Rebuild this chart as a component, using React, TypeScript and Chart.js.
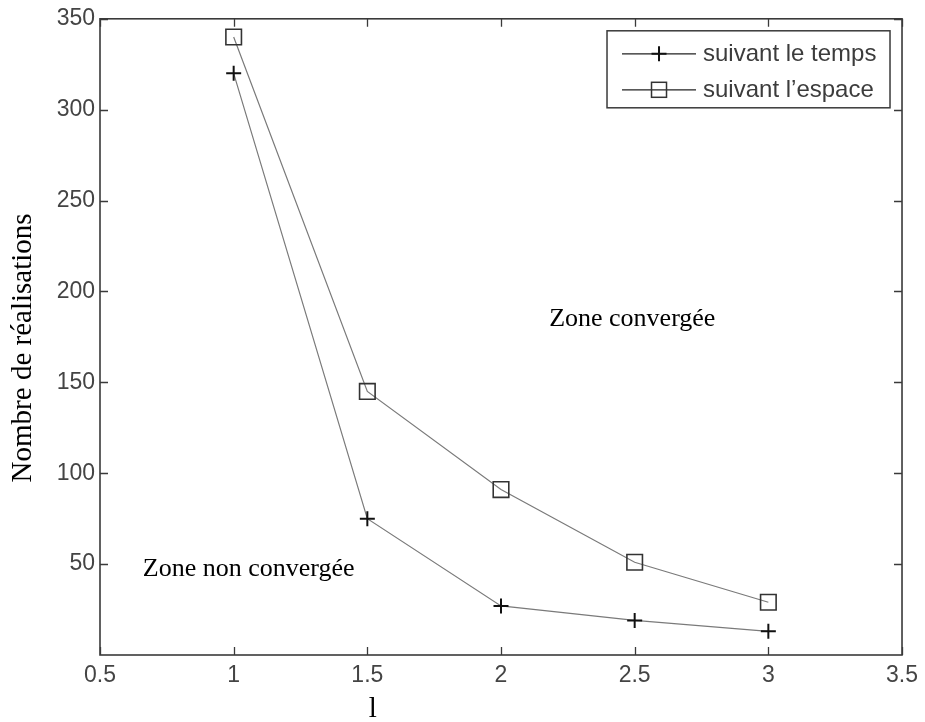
import React, { useEffect, useRef } from "react";
import { Chart, registerables } from "chart.js";

Chart.register(...registerables);

// Parameter values on the horizontal axis
const xValues = [1, 1.5, 2, 2.5, 3];
// Number of realisations needed for convergence
const tempsValues = [320, 75, 27, 19, 13];
const espaceValues = [340, 145, 91, 51, 29];

const xTicks = [0.5, 1, 1.5, 2, 2.5, 3, 3.5];
const yTicks = [50, 100, 150, 200, 250, 300, 350];

const seriesNames = ["suivant le temps", "suivant l\u2019espace"];
const yTitle = "Nombre de réalisations";
const xTitle = "l";
const zoneTexts = ["Zone convergée", "Zone non convergée"];
// anchor points (data coordinates) for the zone annotations
const zoneAnchors = [
  { x: 2.18, y: 181 },
  { x: 0.66, y: 43.5 },
];
const xTitleAnchor = 1.52;

const SANS = '"Liberation Sans", Arial, Helvetica, sans-serif';
const SERIF = '"Liberation Serif", "Times New Roman", serif';
const AXIS_COLOR = "#3a3a3a";
const LINE_COLOR = "#7a7a7a";

const framePlugin = {
  id: "matlabFrame",
  afterDraw(chart: any) {
    const { ctx, chartArea } = chart;
    const xs = chart.scales.x;
    const ys = chart.scales.y;
    const { left, right, top, bottom } = chartArea;
    ctx.save();

    // axes box
    ctx.strokeStyle = AXIS_COLOR;
    ctx.lineWidth = 1.6;
    ctx.strokeRect(left, top, right - left, bottom - top);

    // inward tick marks on all four sides
    const tl = 8;
    ctx.lineWidth = 1.3;
    ctx.beginPath();
    xTicks.forEach((v) => {
      const px = Math.round(xs.getPixelForValue(v)) + 0.5;
      ctx.moveTo(px, bottom);
      ctx.lineTo(px, bottom - tl);
      ctx.moveTo(px, top);
      ctx.lineTo(px, top + tl);
    });
    yTicks.forEach((v) => {
      const py = Math.round(ys.getPixelForValue(v)) + 0.5;
      ctx.moveTo(left, py);
      ctx.lineTo(left + tl, py);
      ctx.moveTo(right, py);
      ctx.lineTo(right - tl, py);
    });
    ctx.stroke();

    // zone annotations
    ctx.fillStyle = "#000";
    ctx.font = `26px ${SERIF}`;
    ctx.textAlign = "left";
    ctx.textBaseline = "alphabetic";
    zoneTexts.forEach((t, i) => {
      const a = zoneAnchors[i];
      ctx.fillText(t, xs.getPixelForValue(a.x), ys.getPixelForValue(a.y));
    });

    // y-axis title
    ctx.save();
    ctx.font = `29px ${SERIF}`;
    ctx.textAlign = "center";
    ctx.textBaseline = "middle";
    ctx.translate(23, (top + bottom) / 2 + 11);
    ctx.rotate(-Math.PI / 2);
    ctx.fillText(yTitle, 0, 0);
    ctx.restore();

    // x-axis title
    ctx.font = `29px ${SERIF}`;
    ctx.textAlign = "center";
    ctx.textBaseline = "alphabetic";
    ctx.fillText(xTitle, xs.getPixelForValue(xTitleAnchor), bottom + 62);

    // legend box
    const lx = right - 295;
    const ly = top + 12;
    const lw = 283;
    const lh = 77;
    ctx.fillStyle = "#fff";
    ctx.fillRect(lx, ly, lw, lh);
    ctx.strokeStyle = AXIS_COLOR;
    ctx.lineWidth = 1.5;
    ctx.strokeRect(lx, ly, lw, lh);

    const rows = [ly + 23, ly + 59];
    rows.forEach((ry, i) => {
      ctx.strokeStyle = "#222";
      ctx.lineWidth = 1.3;
      ctx.beginPath();
      ctx.moveTo(lx + 15, ry);
      ctx.lineTo(lx + 89, ry);
      ctx.stroke();
      const mx = lx + 52;
      if (i === 0) {
        ctx.strokeStyle = "#111";
        ctx.lineWidth = 2;
        ctx.beginPath();
        ctx.moveTo(mx, ry - 7.5);
        ctx.lineTo(mx, ry + 7.5);
        ctx.moveTo(mx - 7.5, ry);
        ctx.lineTo(mx + 7.5, ry);
        ctx.stroke();
      } else {
        ctx.strokeStyle = "#333";
        ctx.lineWidth = 1.5;
        ctx.strokeRect(mx - 7.5, ry - 7.5, 15, 15);
      }
      ctx.fillStyle = "#3c3c3c";
      ctx.font = `24px ${SANS}`;
      ctx.textAlign = "left";
      ctx.textBaseline = "middle";
      ctx.fillText(seriesNames[i], lx + 96, ry + 1);
    });

    ctx.restore();
  },
};

export default function App() {
  const canvasRef = useRef<HTMLCanvasElement | null>(null);

  useEffect(() => {
    const canvas = canvasRef.current;
    if (!canvas) return;
    const chart = new Chart(canvas, {
      type: "line",
      data: {
        datasets: [
          {
            label: seriesNames[0],
            data: xValues.map((x, i) => ({ x, y: tempsValues[i] })),
            borderColor: LINE_COLOR,
            borderWidth: 1.2,
            pointStyle: "cross",
            pointRadius: 7.5,
            pointBorderWidth: 2,
            pointBorderColor: "#111",
            pointBackgroundColor: "#111",
            tension: 0,
          },
          {
            label: seriesNames[1],
            data: xValues.map((x, i) => ({ x, y: espaceValues[i] })),
            borderColor: LINE_COLOR,
            borderWidth: 1.2,
            pointStyle: "rect",
            pointRadius: 11,
            pointBorderWidth: 1.6,
            pointBorderColor: "#333",
            pointBackgroundColor: "rgba(0,0,0,0)",
            tension: 0,
          },
        ],
      },
      options: {
        animation: false,
        responsive: false,
        devicePixelRatio: 1,
        layout: { padding: { top: 18, right: 17, left: 0, bottom: 0 } },
        plugins: {
          legend: { display: false },
          tooltip: { enabled: false },
        },
        scales: {
          x: {
            type: "linear",
            min: 0.5,
            max: 3.5,
            afterBuildTicks: (s: any) => {
              s.ticks = xTicks.map((v) => ({ value: v }));
            },
            afterFit: (s: any) => {
              s.height = 67;
            },
            grid: { display: false, drawTicks: false },
            border: { display: false },
            ticks: {
              color: "#444",
              font: { family: SANS, size: 23 },
              padding: 7,
              maxRotation: 0,
              autoSkip: false,
              callback: (v: any) => String(v),
            },
          },
          y: {
            type: "linear",
            min: 0,
            max: 350,
            afterBuildTicks: (s: any) => {
              s.ticks = yTicks.map((v) => ({ value: v }));
            },
            afterFit: (s: any) => {
              s.width = 100;
            },
            grid: { display: false, drawTicks: false },
            border: { display: false },
            ticks: {
              color: "#444",
              font: { family: SANS, size: 23 },
              padding: 5,
              autoSkip: false,
              callback: (v: any) => String(v),
            },
          },
        },
      },
      plugins: [framePlugin],
    });
    return () => chart.destroy();
  }, []);

  return (
    <div style={{ position: "absolute", left: 0, top: 0, width: 925, height: 722, background: "#fff" }}>
      <canvas ref={canvasRef} width={925} height={722} style={{ width: 925, height: 722, display: "block" }} />
    </div>
  );
}
